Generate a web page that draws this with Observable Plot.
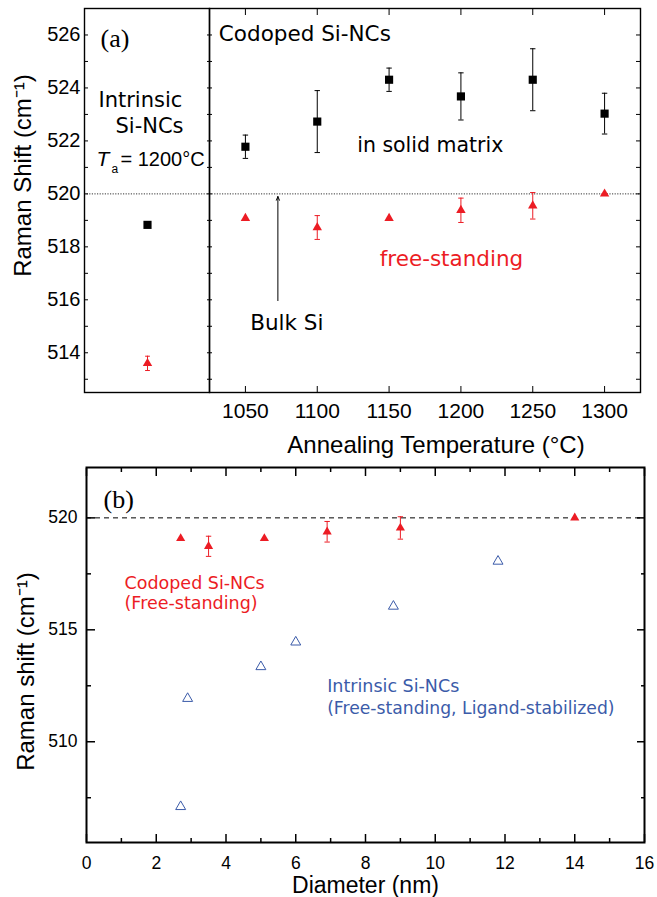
<!DOCTYPE html>
<html>
<head>
<meta charset="utf-8">
<script src="https://cdn.jsdelivr.net/npm/d3@7"></script>
<script src="https://cdn.jsdelivr.net/npm/@observablehq/plot@0.6"></script>
<style>
  html, body { margin: 0; padding: 0; background: #fff; }
  #wrap { width: 657px; position: relative; background: #fff; }
  #topPanel { position: relative; width: 657px; height: 460px; }
  #topPanel svg { position: absolute; left: 0; top: 0; }
  #bottomPanel { width: 657px; height: 437px; }
</style>
</head>
<body>
<div id="wrap">
  <div id="topPanel"></div>
  <div id="bottomPanel"></div>
</div>
<script>
// ---------------- data ----------------
const temps = [1050, 1100, 1150, 1200, 1250, 1300];           // annealing temperature (°C)
const matrixShift = [521.78, 522.73, 524.31, 523.68, 524.31, 523.03]; // codoped, in solid matrix
const matrixErr   = [0.44, 1.17, 0.44, 0.89, 1.17, 0.77];
const freeShift   = [519.08, 518.73, 519.08, 519.38, 519.55, 520.0];  // codoped, free-standing
const freeErr     = [0, 0.45, 0, 0.46, 0.50, 0];
const intrinsicGroup = ["Intrinsic"];
const intrinsicMatrixShift = [518.83];
const intrinsicFreeShift = [513.6];
const intrinsicFreeErr = [0.27];
const bulkSi = [520];
const bulkArrow = {temp: 1072.6, from: 515.97, to: 519.9};

const codopedDiam = [2.7, 3.5, 5.1, 6.9, 9.0, 14.0];          // nm
const intrinsicDiam = [2.7, 2.9, 5.0, 6.0, 8.8, 11.8];
const intrinsicDiamShift = [507.1, 511.93, 513.35, 514.45, 516.05, 518.06];

const yTicksA = [514, 516, 518, 520, 522, 524, 526];
const yMinorA = [513, 514, 515, 516, 517, 518, 519, 520, 521, 522, 523, 524, 525, 526];
const xTicksA = [1050, 1100, 1150, 1200, 1250, 1300];
const yTicksB = [510, 515, 520];
const yMinorB = [507.5, 512.5, 517.5];
const xTicksB = [0, 2, 4, 6, 8, 10, 12, 14, 16];
const xMinorB = [1, 3, 5, 7, 9, 11, 13, 15];

// ---------------- styling ----------------
const red = "#ec1c24", blue = "#3b5ba9";
const sans = "'Liberation Sans', Arial, sans-serif";
const gothic = "'DejaVu Sans', sans-serif";
const serif = "'Liberation Serif', 'Times New Roman', serif";

const capSym = (w) => ({draw(ctx) { ctx.moveTo(-w, 0); ctx.lineTo(w, 0); }});

function errorBars(rows, stroke, w = 2.7) {
  const d = rows.filter(r => r.err > 0);
  return [
    Plot.ruleX(d, {x: "x", y1: r => r.y - r.err, y2: r => r.y + r.err, stroke, strokeWidth: 1}),
    Plot.dot(d, {x: "x", y: r => r.y + r.err, symbol: capSym(w), stroke, fill: "none", strokeWidth: 1}),
    Plot.dot(d, {x: "x", y: r => r.y - r.err, symbol: capSym(w), stroke, fill: "none", strokeWidth: 1})
  ];
}
function ticksY(values, anchor, size, strokeWidth = 1) {
  return Plot.axisY(values, {anchor, tickSize: size, dx: anchor === "left" ? size : -size,
    fill: "none", label: null, strokeWidth});
}
function ticksX(values, anchor, size, strokeWidth = 1) {
  return Plot.axisX(values, {anchor, tickSize: size, dy: anchor === "bottom" ? -size : size,
    fill: "none", label: null, strokeWidth});
}

// tables
const matrixRows = temps.map((t, i) => ({x: t, y: matrixShift[i], err: matrixErr[i]}));
const freeRows = temps.map((t, i) => ({x: t, y: freeShift[i], err: freeErr[i]}));
const intrMatrixRows = intrinsicGroup.map((g, i) => ({x: g, y: intrinsicMatrixShift[i], err: 0}));
const intrFreeRows = intrinsicGroup.map((g, i) => ({x: g, y: intrinsicFreeShift[i], err: intrinsicFreeErr[i]}));
const codopedDiamRows = codopedDiam.map((d, i) => ({x: d, y: freeShift[i], err: freeErr[i]}));
const intrinsicDiamRows = intrinsicDiam.map((d, i) => ({x: d, y: intrinsicDiamShift[i]}));

const yDomainA = [512.5, 527];
const baseA = {width: 657, height: 460, marginTop: 8, marginBottom: 68,
  style: {background: "transparent", fontFamily: sans, overflow: "visible"}};

// ---------------- panel (a), intrinsic part ----------------
const aLeft = Plot.plot({
  ...baseA,
  marginLeft: 84, marginRight: 657 - 209,
  x: {type: "point", domain: intrinsicGroup, axis: null},
  y: {domain: yDomainA},
  marks: [
    Plot.ruleY(bulkSi, {strokeDasharray: "1.2,1.4", strokeWidth: 0.8}),
    ...errorBars(intrFreeRows, red, 2.4),
    Plot.dot(intrMatrixRows, {x: "x", y: "y", symbol: "square", r: 4.6, fill: "black", stroke: "none"}),
    Plot.dot(intrFreeRows, {x: "x", y: "y", symbol: "triangle", r: 3.5, fill: red, stroke: "none"}),
    Plot.frame({strokeWidth: 1.4}),
    ticksY(yMinorA, "left", 4),
    ticksY(yMinorA, "right", 3),
    Plot.axisY(yTicksA, {anchor: "left", tickSize: 0, tickPadding: 4, fontSize: 20, label: null, tickFormat: "d"}),
    Plot.text(["(a)"], {y: 525.53, frameAnchor: "left", dx: 16, textAnchor: "start", lineAnchor: "bottom",
      fontFamily: serif, fontSize: 26}),
    Plot.text(["Intrinsic"], {y: 523.28, frameAnchor: "left", dx: 14, textAnchor: "start", lineAnchor: "bottom",
      fontFamily: gothic, fontSize: 21}),
    Plot.text(["Si-NCs"], {y: 522.29, frameAnchor: "left", dx: 31, textAnchor: "start", lineAnchor: "bottom",
      fontFamily: gothic, fontSize: 21}),
    Plot.text(["T"], {y: 521.07, frameAnchor: "left", dx: 12, textAnchor: "start", lineAnchor: "bottom",
      fontFamily: sans, fontSize: 21, fontStyle: "italic"}),
    Plot.text(["a"], {y: 520.77, frameAnchor: "left", dx: 27, textAnchor: "start", lineAnchor: "bottom",
      fontFamily: sans, fontSize: 12}),
    Plot.text(["= 1200°C"], {y: 521.07, frameAnchor: "left", dx: 36, textAnchor: "start", lineAnchor: "bottom",
      fontFamily: sans, fontSize: 20}),
    Plot.text(["Raman Shift (cm⁻¹)"], {frameAnchor: "left", dx: -71, dy: -25, rotate: -90,
      textAnchor: "middle", lineAnchor: "top", fontFamily: sans, fontSize: 24})
  ]
});

// ---------------- panel (a), codoped part ----------------
const aRight = Plot.plot({
  ...baseA,
  marginLeft: 209, marginRight: 17,
  x: {domain: [1025, 1325]},
  y: {domain: yDomainA},
  marks: [
    Plot.ruleY(bulkSi, {strokeDasharray: "1.2,1.4", strokeWidth: 0.8}),
    ...errorBars(matrixRows, "black", 2.7),
    Plot.dot(matrixRows, {x: "x", y: "y", symbol: "square", r: 4.6, fill: "black", stroke: "none"}),
    ...errorBars(freeRows, red, 2.7),
    Plot.dot(freeRows, {x: "x", y: "y", symbol: "triangle", r: 3.5, fill: red, stroke: "none"}),
    Plot.arrow([bulkArrow], {x1: "temp", x2: "temp", y1: "from", y2: "to",
      headLength: 6, headAngle: 45, strokeWidth: 1, stroke: "black"}),
    Plot.frame({strokeWidth: 1.4}),
    ticksY(yMinorA, "left", 3),
    ticksY(yMinorA, "right", 5),
    ticksX(xTicksA, "top", 6),
    ticksX(xTicksA, "bottom", 6),
    Plot.axisX(xTicksA, {anchor: "bottom", tickSize: 0, tickPadding: 11, fontSize: 21, label: null, tickFormat: "d"}),
    Plot.text(["Codoped Si-NCs"], {x: 1031.5, y: 525.79, textAnchor: "start", lineAnchor: "bottom",
      fontFamily: gothic, fontSize: 21.5}),
    Plot.text(["in solid matrix"], {x: 1127.8, y: 521.57, textAnchor: "start", lineAnchor: "bottom",
      fontFamily: gothic, fontSize: 20.5}),
    Plot.text(["free-standing"], {x: 1143.5, y: 517.26, textAnchor: "start", lineAnchor: "bottom",
      fontFamily: gothic, fontSize: 21.5, fill: red}),
    Plot.text(["Bulk Si"], {x: 1053.3, y: 514.87, textAnchor: "start", lineAnchor: "bottom",
      fontFamily: gothic, fontSize: 21.5}),
    Plot.text(["Annealing Temperature (°C)"], {frameAnchor: "bottom", dx: 11, dy: 60,
      textAnchor: "middle", lineAnchor: "bottom", fontFamily: sans, fontSize: 24})
  ]
});

document.getElementById("topPanel").append(aLeft, aRight);

// ---------------- panel (b) ----------------
const b = Plot.plot({
  width: 657, height: 437, marginTop: 7, marginBottom: 55, marginLeft: 86, marginRight: 13,
  style: {background: "transparent", fontFamily: sans, overflow: "visible"},
  x: {domain: [0, 16]},
  y: {domain: [505.5, 522.25]},
  marks: [
    Plot.ruleY(bulkSi, {strokeDasharray: "5,4", strokeWidth: 1}),
    ...errorBars(codopedDiamRows, red, 2.7),
    Plot.dot(codopedDiamRows, {x: "x", y: "y", symbol: "triangle", r: 3.4, fill: red, stroke: "none"}),
    Plot.dot(intrinsicDiamRows, {x: "x", y: "y", symbol: "triangle", r: 3.7, fill: "none", stroke: blue, strokeWidth: 1}),
    Plot.frame({strokeWidth: 2}),
    ticksY(yTicksB, "left", 9, 1.5),
    ticksY(yMinorB, "left", 5, 1.5),
    ticksY(yTicksB, "right", 8, 1.5),
    ticksY(yMinorB, "right", 4, 1.5),
    ticksX(xTicksB, "bottom", 8, 1.5),
    ticksX(xMinorB, "bottom", 4, 1.5),
    ticksX(xTicksB, "top", 8, 1.5),
    ticksX(xMinorB, "top", 4, 1.5),
    Plot.axisY(yTicksB, {anchor: "left", tickSize: 0, tickPadding: 9, fontSize: 17.5, label: null, tickFormat: "d"}),
    Plot.axisX(xTicksB, {anchor: "bottom", tickSize: 0, tickPadding: 14, fontSize: 17.5, label: null, tickFormat: "d"}),
    Plot.text(["(b)"], {x: 0.49, y: 520.46, textAnchor: "start", lineAnchor: "bottom", fontFamily: serif, fontSize: 26}),
    Plot.text(["Codoped Si-NCs"], {x: 1.09, y: 516.83, textAnchor: "start", lineAnchor: "bottom",
      fontFamily: gothic, fontSize: 17.5, fill: red}),
    Plot.text(["(Free-standing)"], {x: 1.09, y: 515.94, textAnchor: "start", lineAnchor: "bottom",
      fontFamily: gothic, fontSize: 17.5, fill: red}),
    Plot.text(["Intrinsic Si-NCs"], {x: 6.9, y: 512.24, textAnchor: "start", lineAnchor: "bottom",
      fontFamily: gothic, fontSize: 17.5, fill: blue}),
    Plot.text(["(Free-standing, Ligand-stabilized)"], {x: 6.9, y: 511.25, textAnchor: "start", lineAnchor: "bottom",
      fontFamily: gothic, fontSize: 17.2, fill: blue}),
    Plot.text(["Raman shift (cm⁻¹)"], {frameAnchor: "left", dx: -70, dy: 16.5, rotate: -90,
      textAnchor: "middle", lineAnchor: "top", fontFamily: sans, fontSize: 24}),
    Plot.text(["Diameter (nm)"], {frameAnchor: "bottom", dy: 50,
      textAnchor: "middle", lineAnchor: "bottom", fontFamily: sans, fontSize: 23})
  ]
});
document.getElementById("bottomPanel").append(b);
</script>
</body>
</html>
